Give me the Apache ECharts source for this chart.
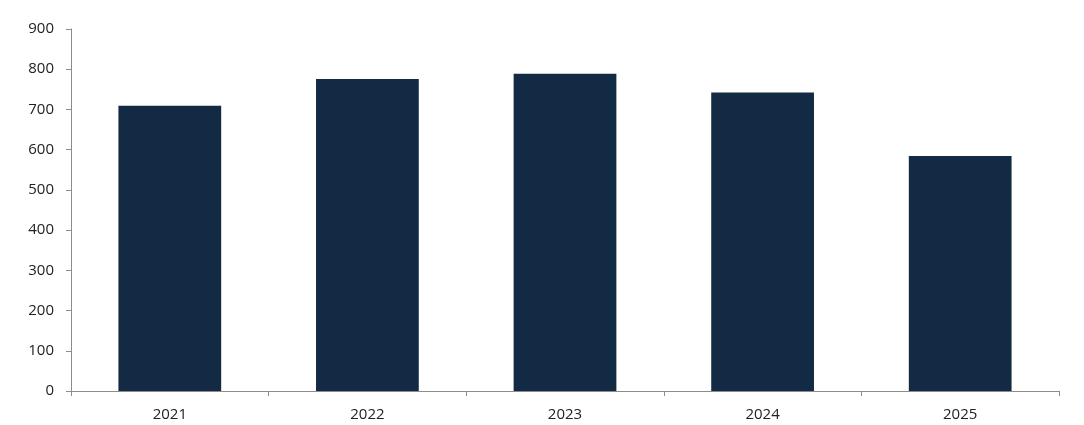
<!DOCTYPE html>
<html>
<head>
<meta charset="utf-8">
<script src="https://cdn.jsdelivr.net/npm/echarts@6/dist/echarts.min.js"></script>
<style>
html,body{margin:0;padding:0;background:#fff;}
#chart{width:1084px;height:425px;}
</style>
</head>
<body>
<div id="chart"></div>
<script>
const categories = ['2021', '2022', '2023', '2024', '2025'];
const values = [709, 776, 789, 742, 584];
const yTicks = [0, 100, 200, 300, 400, 500, 600, 700, 800, 900];

const chart = echarts.init(document.getElementById('chart'));
chart.setOption({
  animation: false,
  grid: { left: 71, right: 25, top: 29, bottom: 34, containLabel: false },
  xAxis: {
    type: 'category',
    data: categories,
    axisLine: { lineStyle: { color: '#8c8c8c', width: 1 } },
    axisTick: { show: true, length: 5, lineStyle: { color: '#8c8c8c' } },
    axisLabel: { color: '#222', fontSize: 15, fontFamily: 'Open Sans', margin: 16 }
  },
  yAxis: {
    type: 'value',
    min: yTicks[0],
    max: yTicks[yTicks.length - 1],
    interval: 100,
    axisLine: { show: true, lineStyle: { color: '#8c8c8c', width: 1 } },
    axisTick: { show: true, length: 5, lineStyle: { color: '#8c8c8c' } },
    splitLine: { show: false },
    axisLabel: { color: '#222', fontSize: 15, fontFamily: 'Open Sans', margin: 17 }
  },
  series: [{
    type: 'bar',
    data: values,
    barWidth: '52%',
    itemStyle: { color: '#122a43' }
  }]
});
</script>
</body>
</html>
